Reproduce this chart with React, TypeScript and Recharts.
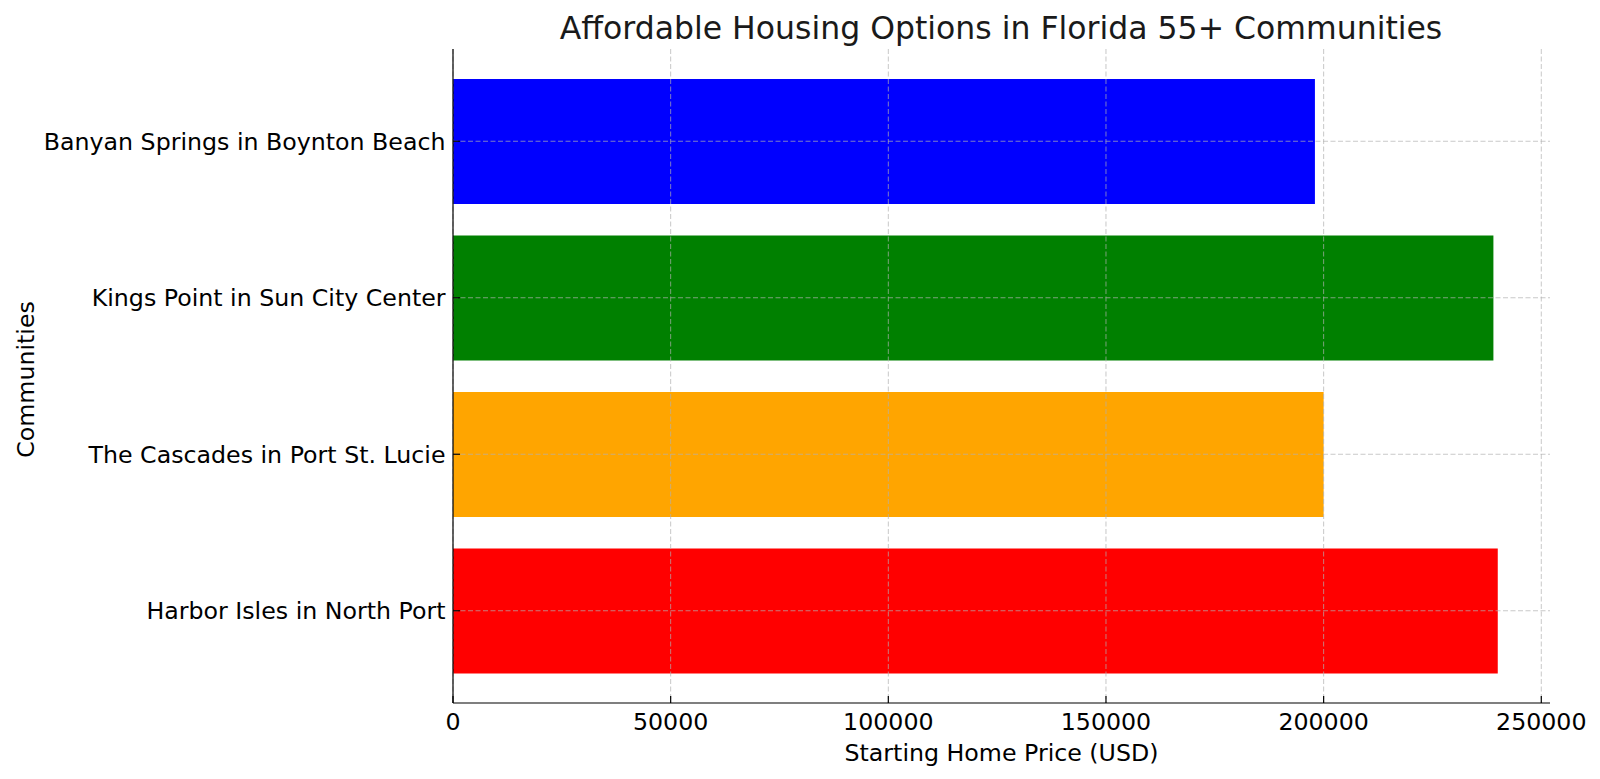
import React from 'react';
import { BarChart, Bar, XAxis, YAxis, CartesianGrid, Cell, Customized } from 'recharts';

const communities = [
  'Banyan Springs in Boynton Beach',
  'Kings Point in Sun City Center',
  'The Cascades in Port St. Lucie',
  'Harbor Isles in North Port',
];
const prices = [198000, 239000, 200000, 240000];
const barColors = ['#0000FF', '#008000', '#FFA500', '#FF0000'];
const xTicks = [0, 50000, 100000, 150000, 200000, 250000];

const data = communities.map((name, i) => ({ name, price: prices[i] }));

const FONT = 'DejaVu Sans, sans-serif';
const FS = 23.7;

const XTick = (props: any) => {
  const { x, y, payload } = props;
  return (
    <g>
      <line x1={x} x2={x} y1={y} y2={y - 7} stroke="#000" strokeWidth={1.2} />
      <text x={x} y={y + 26.5} textAnchor="middle" fontSize={FS} fontFamily={FONT} fill="#000">
        {payload.value}
      </text>
    </g>
  );
};

const YTick = (props: any) => {
  const { x, y, payload } = props;
  return (
    <g>
      <line x1={x} x2={x + 7} y1={y} y2={y} stroke="#000" strokeWidth={1.2} />
      <text x={x - 7.5} y={y + 8.5} textAnchor="end" fontSize={FS} fontFamily={FONT} fill="#000">
        {payload.value}
      </text>
    </g>
  );
};

const Title = () => (
  <text x={1001} y={39} textAnchor="middle" fontSize={31.5} fontFamily={FONT} fill="#1a1a1a">
    Affordable Housing Options in Florida 55+ Communities
  </text>
);

export default function App() {
  return (
    <div style={{ position: 'absolute', left: 0, top: 0, width: 1600, height: 779, background: '#fff' }}>
      <BarChart
        width={1600}
        height={779}
        data={data}
        layout="vertical"
        margin={{ top: 49, right: 50, bottom: 0, left: 0 }}
      >
        <CartesianGrid
          stroke="#b0b0b0"
          strokeOpacity={0.7}
          strokeDasharray="5 2.5"
          syncWithTicks
          zIndex={350}
        />
        <XAxis
          type="number"
          domain={[0, 252000]}
          ticks={xTicks}
          allowDataOverflow
          height={76}
          tickSize={0}
          tickMargin={0}
          tickLine={false}
          axisLine={{ stroke: '#000', strokeWidth: 1.2 }}
          tick={<XTick />}
          label={{
            content: (p: any) => (
              <text
                x={p.viewBox.x + p.viewBox.width / 2}
                y={761}
                textAnchor="middle"
                fontSize={FS}
                fontFamily={FONT}
                fill="#000"
              >
                Starting Home Price (USD)
              </text>
            ),
          }}
        />
        <YAxis
          type="category"
          dataKey="name"
          width={453}
          padding={{ top: 14, bottom: 14 }}
          tickSize={0}
          tickMargin={0}
          tickLine={false}
          axisLine={{ stroke: '#000', strokeWidth: 1.2 }}
          tick={<YTick />}
          label={{
            content: () => (
              <text
                x={34}
                y={379.5}
                transform="rotate(-90 34 379.5)"
                textAnchor="middle"
                fontSize={FS}
                fontFamily={FONT}
                fill="#000"
              >
                Communities
              </text>
            ),
          }}
        />
        <Bar dataKey="price" barSize={125} isAnimationActive={false}>
          {data.map((d, i) => (
            <Cell key={d.name} fill={barColors[i]} />
          ))}
        </Bar>
        <Customized component={Title} />
      </BarChart>
    </div>
  );
}
